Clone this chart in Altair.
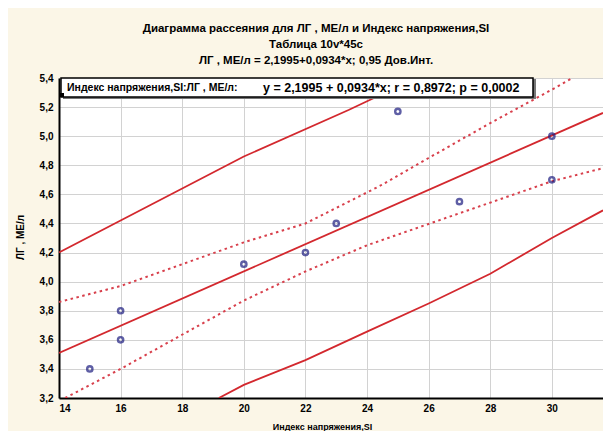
import altair as alt
import pandas as pd

# ---- data ----
x_pts = [15, 16, 16, 20, 22, 23, 25, 27, 30, 30]
y_pts = [3.40, 3.80, 3.60, 4.12, 4.20, 4.40, 5.17, 4.55, 5.00, 4.70]

reg_x = [14, 31.66]
reg_y = [3.51, 5.16]

pred_up_x = [14, 17, 20, 23.4, 25.6]
pred_up_y = [4.20, 4.53, 4.86, 5.18, 5.40]
pred_lo_x = [19.19, 20, 22, 24, 26, 28, 30, 31.66]
pred_lo_y = [3.20, 3.29, 3.46, 3.656, 3.85, 4.054, 4.30, 4.49]

conf_up_x = [14, 16, 18, 20, 22, 24.39, 26, 28, 30, 30.67]
conf_up_y = [3.86, 3.97, 4.12, 4.27, 4.40, 4.655, 4.85, 5.09, 5.32, 5.40]
conf_lo_x = [14.2, 16, 18.55, 20, 22, 24, 27, 30, 31.66]
conf_lo_y = [3.20, 3.40, 3.70, 3.87, 4.07, 4.25, 4.47, 4.69, 4.78]

x_ticks = [14, 16, 18, 20, 22, 24, 26, 28, 30]
y_ticks = [3.2, 3.4, 3.6, 3.8, 4.0, 4.2, 4.4, 4.6, 4.8, 5.0, 5.2, 5.4]

title_lines = [
    "Диаграмма рассеяния для ЛГ , МЕ/л и Индекс напряжения,SI",
    "Таблица 10v*45c",
    "ЛГ , МЕ/л = 2,1995+0,0934*x; 0,95 Дов.Инт.",
]
legend_left = "Индекс напряжения,SI:ЛГ , МЕ/л:"
legend_right = "y = 2,1995 + 0,0934*x;  r = 0,8972; p = 0,0002"
x_title = "Индекс напряжения,SI"
y_title = "ЛГ , МЕ/л"

RED = "#d3282e"
RED_DOT = "#d8404c"
BLUE = "#1c1c80"
FONT = "Liberation Sans"

def seg(xs, ys, name):
    return pd.DataFrame({"x": xs, "y": ys, "s": name})

solid_df = pd.concat([
    seg(reg_x, reg_y, "reg"),
    seg(pred_up_x, pred_up_y, "pu"),
    seg(pred_lo_x, pred_lo_y, "pl"),
])
dot_df = pd.concat([
    seg(conf_up_x, conf_up_y, "cu"),
    seg(conf_lo_x, conf_lo_y, "cl"),
])
pts_df = pd.DataFrame({"x": x_pts, "y": y_pts})

label_expr = "replace(format(datum.value, '.1f'), '.', ',')"

xscale = alt.Scale(domain=[14, 31.66], nice=False, zero=False)
yscale = alt.Scale(domain=[3.2, 5.4], nice=False, zero=False)

x_enc = alt.X("x:Q", scale=xscale, axis=alt.Axis(
    values=x_ticks, format="d", title=x_title, titleX=263, titleY=28,
    titleBaseline="middle", titleFontSize=9, titleFontWeight="bold",
    labelPadding=5))
y_enc = alt.Y("y:Q", scale=yscale, axis=alt.Axis(
    values=y_ticks, labelExpr=label_expr, title=y_title, titleX=-39,
    titleY=159, titleAngle=270, titleBaseline="middle", titleAlign="center",
    titleFontSize=10, titleFontWeight="bold", labelPadding=6))

solid = alt.Chart(solid_df).mark_line(color=RED, strokeWidth=1.8, clip=True).encode(
    x=x_enc, y=y_enc, detail="s:N")
dotted = alt.Chart(dot_df).mark_line(color=RED_DOT, strokeWidth=2, strokeDash=[2.5, 3.5], clip=True).encode(
    x=x_enc, y=y_enc, detail="s:N")
points = alt.Chart(pts_df).mark_point(shape="circle", filled=False, size=28, strokeWidth=2.4, color=BLUE).encode(
    x=x_enc, y=y_enc)

one = pd.DataFrame({"a": [0]})
box_shadow = alt.Chart(one).mark_rect(fill="#777777").encode(
    x=alt.value(4), x2=alt.value(477), y=alt.value(1), y2=alt.value(21))
box = alt.Chart(one).mark_rect(fill="white", stroke="black", strokeWidth=1.5).encode(
    x=alt.value(2), x2=alt.value(474), y=alt.value(0), y2=alt.value(19))
box_mark = alt.Chart(one).mark_rect(fill="black").encode(
    x=alt.value(1), x2=alt.value(5), y=alt.value(15), y2=alt.value(19))
txt_l = alt.Chart(one).mark_text(text=legend_left, align="left", baseline="middle",
                                 font=FONT, fontSize=10.5, fontWeight="bold", color="black").encode(
    x=alt.value(8), y=alt.value(10))
txt_r = alt.Chart(one).mark_text(text=legend_right, align="left", baseline="middle",
                                 font=FONT, fontSize=12.5, fontWeight="bold", color="black").encode(
    x=alt.value(204), y=alt.value(10))

chart = alt.layer(solid, dotted, points, box_shadow, box, box_mark, txt_l, txt_r).properties(
    width=544, height=320,
    autosize=alt.AutoSizeParams(type="none"),
    padding={"left": 51, "top": 70, "right": 0, "bottom": 33},
    background="#fbf6e7",
    title=alt.Title(text=title_lines, anchor="middle", dx=-15, fontSize=11.5, font=FONT,
                    fontWeight="bold", lineHeight=16, offset=7, color="black"),
).configure_view(fill="white", stroke="#666666", strokeWidth=1).configure_axis(
    labelFont=FONT, titleFont=FONT, labelFontSize=10, labelFontWeight="bold",
    labelColor="black", titleColor="black", domainColor="black", domainWidth=2,
    grid=True, gridColor="#d2d2d2", gridWidth=1, ticks=False)

chart.save("out.html", embed_options={"renderer": "svg", "actions": False})
